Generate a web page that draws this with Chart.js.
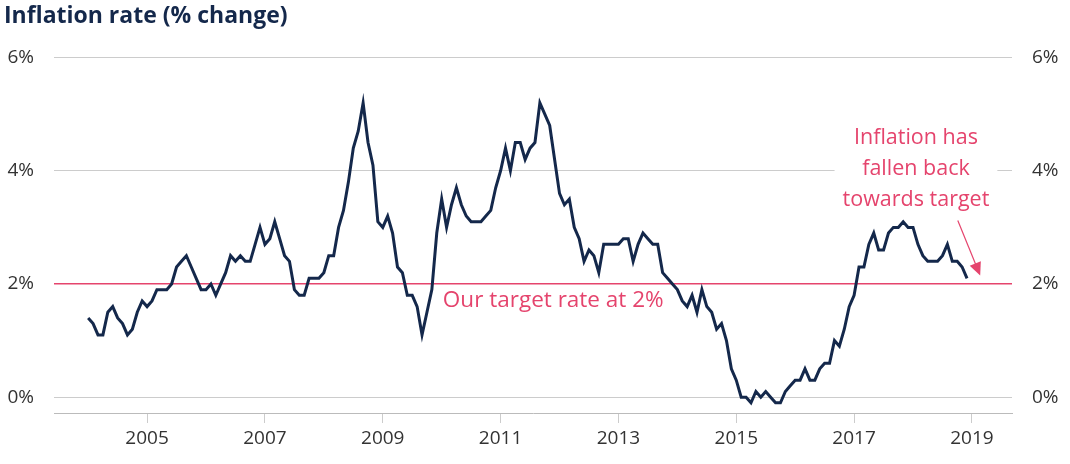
<!DOCTYPE html>
<html>
<head>
<meta charset="utf-8">
<script src="https://cdn.jsdelivr.net/npm/chart.js@4.4.1/dist/chart.umd.min.js"></script>
<style>
  html, body { margin: 0; padding: 0; background: #fff; }
  #wrap { width: 1070px; height: 464px; }
</style>
</head>
<body>
<div id="wrap"><canvas id="inflationChart" width="1070" height="464"></canvas></div>
<script>
// UK CPI, 12-month rate, Jan 2004 - Dec 2018
const startYear = 2004;
const cpi2004 = [1.4, 1.3, 1.1, 1.1, 1.5, 1.6, 1.4, 1.3, 1.1, 1.2, 1.5, 1.7];
const cpi2005 = [1.6, 1.7, 1.9, 1.9, 1.9, 2.0, 2.3, 2.4, 2.5, 2.3, 2.1, 1.9];
const cpi2006 = [1.9, 2.0, 1.8, 2.0, 2.2, 2.5, 2.4, 2.5, 2.4, 2.4, 2.7, 3.0];
const cpi2007 = [2.7, 2.8, 3.1, 2.8, 2.5, 2.4, 1.9, 1.8, 1.8, 2.1, 2.1, 2.1];
const cpi2008 = [2.2, 2.5, 2.5, 3.0, 3.3, 3.8, 4.4, 4.7, 5.2, 4.5, 4.1, 3.1];
const cpi2009 = [3.0, 3.2, 2.9, 2.3, 2.2, 1.8, 1.8, 1.6, 1.1, 1.5, 1.9, 2.9];
const cpi2010 = [3.5, 3.0, 3.4, 3.7, 3.4, 3.2, 3.1, 3.1, 3.1, 3.2, 3.3, 3.7];
const cpi2011 = [4.0, 4.4, 4.0, 4.5, 4.5, 4.2, 4.4, 4.5, 5.2, 5.0, 4.8, 4.2];
const cpi2012 = [3.6, 3.4, 3.5, 3.0, 2.8, 2.4, 2.6, 2.5, 2.2, 2.7, 2.7, 2.7];
const cpi2013 = [2.7, 2.8, 2.8, 2.4, 2.7, 2.9, 2.8, 2.7, 2.7, 2.2, 2.1, 2.0];
const cpi2014 = [1.9, 1.7, 1.6, 1.8, 1.5, 1.9, 1.6, 1.5, 1.2, 1.3, 1.0, 0.5];
const cpi2015 = [0.3, 0.0, 0.0, -0.1, 0.1, 0.0, 0.1, 0.0, -0.1, -0.1, 0.1, 0.2];
const cpi2016 = [0.3, 0.3, 0.5, 0.3, 0.3, 0.5, 0.6, 0.6, 1.0, 0.9, 1.2, 1.6];
const cpi2017 = [1.8, 2.3, 2.3, 2.7, 2.9, 2.6, 2.6, 2.9, 3.0, 3.0, 3.1, 3.0];
const cpi2018 = [3.0, 2.7, 2.5, 2.4, 2.4, 2.4, 2.5, 2.7, 2.4, 2.4, 2.3, 2.1];

const xTickYears = [2005, 2007, 2009, 2011, 2013, 2015, 2017, 2019];
const yTickValues = [0, 2, 4, 6];
const targetRate = 2;
const targetLabel = "Our target rate at 2%";
const noteLines = ["Inflation has", "fallen back", "towards target"];

const allYears = [cpi2004, cpi2005, cpi2006, cpi2007, cpi2008, cpi2009, cpi2010, cpi2011,
  cpi2012, cpi2013, cpi2014, cpi2015, cpi2016, cpi2017, cpi2018];
const points = [];
allYears.forEach(function (yr, i) {
  yr.forEach(function (v, m) {
    points.push({ x: startYear + i + m / 12, y: v });
  });
});

const navy = "#14284b";
const red = "#e5446d";
const grid = "#cccccc";
const fontFamily = "'Open Sans', 'Noto Sans', sans-serif";

// annotations (text + arrow), placed in data units
const annotations = {
  id: "annotations",
  beforeDatasetsDraw(chart) {
    const { ctx, scales } = chart;
    const x = scales.x, y = scales.y;
    ctx.save();
    ctx.font = "22.5px " + fontFamily;
    ctx.fillStyle = red;
    ctx.textBaseline = "middle";
    ctx.textAlign = "left";
    ctx.fillText(targetLabel, x.getPixelForValue(2010.02), y.getPixelForValue(1.71));

    // note with white box behind it
    ctx.font = "21.5px " + fontFamily;
    const cx = x.getPixelForValue(2018.05);
    const cy0 = y.getPixelForValue(4.59);
    const lh = 31;
    ctx.textAlign = "center";
    let maxW = 0;
    noteLines.forEach(function (t) { maxW = Math.max(maxW, ctx.measureText(t).width); });
    ctx.fillStyle = "#fff";
    ctx.fillRect(cx - maxW / 2 - 8, cy0 - 16, maxW + 16, lh * noteLines.length + 2);
    ctx.fillStyle = red;
    noteLines.forEach(function (t, i) { ctx.fillText(t, cx, cy0 + i * lh); });

    // arrow
    const ax0 = x.getPixelForValue(2018.76), ay0 = y.getPixelForValue(3.12);
    const ax1 = x.getPixelForValue(2019.14), ay1 = y.getPixelForValue(2.15);
    const ang = Math.atan2(ay1 - ay0, ax1 - ax0);
    ctx.strokeStyle = red;
    ctx.lineWidth = 1.2;
    ctx.beginPath();
    ctx.moveTo(ax0, ay0);
    ctx.lineTo(ax1 - 8 * Math.cos(ang), ay1 - 8 * Math.sin(ang));
    ctx.stroke();
    ctx.beginPath();
    ctx.moveTo(ax1, ay1);
    ctx.lineTo(ax1 - 13 * Math.cos(ang) + 6 * Math.sin(ang), ay1 - 13 * Math.sin(ang) - 6 * Math.cos(ang));
    ctx.lineTo(ax1 - 13 * Math.cos(ang) - 6 * Math.sin(ang), ay1 - 13 * Math.sin(ang) + 6 * Math.cos(ang));
    ctx.closePath();
    ctx.fillStyle = red;
    ctx.fill();
    ctx.restore();
  }
};

function keepTicks(values) {
  return function (scale) {
    scale.ticks = values.map(function (v) { return { value: v }; });
  };
}

function isTarget(c) {
  return c.tick && c.tick.value === targetRate;
}

document.addEventListener("DOMContentLoaded", function () {
  const ctx = document.getElementById("inflationChart").getContext("2d");
  const inflationChart = new Chart(ctx, {
    type: "line",
    data: {
      datasets: [
        {
          label: "CPI inflation",
          data: points,
          borderColor: navy,
          borderWidth: 3,
          pointRadius: 0,
          tension: 0,
          fill: false,
        },
      ],
    },
    plugins: [annotations],
    options: {
      responsive: false,
      animation: false,
      layout: { padding: { left: 4, right: 0, top: 0, bottom: 0 } },
      plugins: {
        legend: { display: false },
        tooltip: { enabled: false },
        title: {
          display: true,
          text: "Inflation rate (% change)",
          align: "start",
          color: navy,
          font: { family: fontFamily, size: 23, weight: "bold" },
          padding: { top: 3, bottom: 27 },
        },
      },
      scales: {
        x: {
          type: "linear",
          min: 2003.42,
          max: 2019.68,
          afterBuildTicks: keepTicks(xTickYears),
          afterFit: function (s) { s.height = 51; },
          grid: { drawOnChartArea: false, drawTicks: true, tickLength: 10, color: grid },
          border: { display: true, color: "#bbbbbb" },
          ticks: {
            color: "#333",
            padding: 4,
            maxRotation: 0,
            font: { family: fontFamily, size: 19 },
            callback: function (v) { return String(v); },
          },
        },
        y: {
          position: "left",
          min: -0.28,
          max: 6,
          afterBuildTicks: keepTicks(yTickValues),
          afterFit: function (s) { s.width = 50; },
          grid: {
            drawTicks: false,
            color: function (c) { return isTarget(c) ? red : grid; },
            lineWidth: function (c) { return isTarget(c) ? 1.5 : 1; },
          },
          border: { display: false },
          ticks: {
            color: "#333",
            padding: 20,
            font: { family: fontFamily, size: 19 },
            callback: function (v) { return v + "%"; },
          },
        },
        y2: {
          position: "right",
          min: -0.28,
          max: 6,
          afterBuildTicks: keepTicks(yTickValues),
          afterFit: function (s) { s.width = 58; },
          grid: { display: false, drawTicks: false },
          border: { display: false },
          ticks: {
            color: "#333",
            padding: 20,
            font: { family: fontFamily, size: 19 },
            callback: function (v) { return v + "%"; },
          },
        },
      },
    },
  });
});
</script>
</body>
</html>
